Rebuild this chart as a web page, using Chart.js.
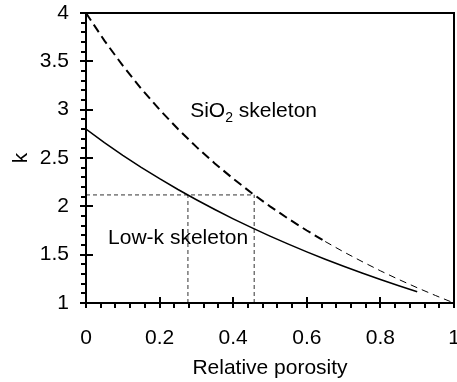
<!DOCTYPE html>
<html>
<head>
<meta charset="utf-8">
<script src="https://cdn.jsdelivr.net/npm/chart.js@4/dist/chart.umd.min.js"></script>
<style>
  html, body { margin: 0; padding: 0; background: #fff; }
  #wrap { width: 457px; height: 382px; }
</style>
</head>
<body>
<div id="wrap"><canvas id="myChart" width="457" height="382"></canvas></div>
<script>
'use strict'
// values (k vs relative porosity)
let porosity = [0, 0.05, 0.1, 0.15, 0.2, 0.25, 0.3, 0.35, 0.4, 0.45, 0.5, 0.55, 0.6, 0.65, 0.7, 0.75, 0.8, 0.85, 0.9, 0.95, 1];
let sio2K = [4, 3.714, 3.455, 3.217, 3.0, 2.8, 2.615, 2.444, 2.286, 2.138, 2.0, 1.871, 1.75, 1.636, 1.529, 1.429, 1.333, 1.243, 1.158, 1.077, 1];
let lowK = [2.8, 2.66, 2.528, 2.404, 2.286, 2.174, 2.068, 1.967, 1.871, 1.78, 1.692, 1.609, 1.529, 1.453, 1.38, 1.31, 1.243, 1.179, 1.117];
let thinFrom = 0.65; // sio2 curve changes to a thin dash here

// dotted guide lines
let guideK = 2.118;
let guideLowP = 0.277;
let guideSioP = 0.457;

let xTicks = [0, 0.2, 0.4, 0.6, 0.8, 1];
let yTicks = [1, 1.5, 2, 2.5, 3, 3.5, 4];
let xMinorStep = 0.04;
let yMinorStep = 0.1;

let fontFam = '"Liberation Sans", Arial, Helvetica, sans-serif';
Chart.defaults.color = '#000';
Chart.defaults.font.family = fontFam;

function toPoints(xs, ys) {
    let out = [];
    for (let i = 0; i < ys.length; i++) {
        out.push({ x: xs[i], y: ys[i] });
    }
    return out;
}

let sioAll = toPoints(porosity, sio2K);
let sioThick = sioAll.filter(p => p.x <= thinFrom);
let sioThin = sioAll.filter(p => p.x >= thinFrom);
let lowPts = toPoints(porosity, lowK);

function guide(data) {
    return {
        data: data, borderColor: '#333', borderWidth: 1, borderDash: [4, 3],
        pointRadius: 0, showLine: true, fill: false
    };
}

// minor/major ticks, frame and the two curve labels
let extras = {
    id: 'extras',
    afterDraw(chart) {
        let c = chart.ctx;
        let xs = chart.scales.x;
        let ys = chart.scales.y;
        let a = chart.chartArea;
        c.save();
        c.fillStyle = '#000';
        // y ticks every 0.1, major every 0.5
        for (let i = 0; i <= 30; i++) {
            let py = Math.round(ys.getPixelForValue(1 + i * yMinorStep));
            if (i % 5 === 0) {
                c.fillRect(a.left - 6, py - 1, 13, 2);
            } else {
                c.fillRect(a.left - 5, py - 1, 5, 2);
            }
        }
        // x ticks every 0.04, major every 0.2
        for (let i = 0; i <= 25; i++) {
            let px = Math.round(xs.getPixelForValue(i * xMinorStep));
            if (i % 5 === 0) {
                c.fillRect(px - 1, a.bottom - 6, 2, 11);
            } else {
                c.fillRect(px - 1, a.bottom, 2, 5);
            }
        }
        c.strokeStyle = '#000';
        c.lineWidth = 2;
        c.setLineDash([]);
        c.strokeRect(a.left, a.top, a.right - a.left, a.bottom - a.top);

        c.textBaseline = 'alphabetic';
        c.textAlign = 'left';
        let tx = xs.getPixelForValue(0.283);
        let ty = ys.getPixelForValue(2.92);
        c.font = '21px ' + fontFam;
        c.fillText('SiO', tx, ty);
        tx += c.measureText('SiO').width;
        c.font = '14px ' + fontFam;
        c.fillText('2', tx, ty + 5);
        tx += c.measureText('2').width;
        c.font = '21px ' + fontFam;
        c.fillText(' skeleton', tx, ty);
        c.fillText('Low-k skeleton', xs.getPixelForValue(0.06), ys.getPixelForValue(1.61));
        c.restore();
    }
};

let ctx = document.getElementById('myChart').getContext('2d');
let myChart = new Chart(ctx, {
    type: 'scatter',
    data: {
        datasets: [
            {
                data: sioThick, borderColor: '#000', borderWidth: 2, borderDash: [9, 5],
                pointRadius: 0, showLine: true
            },
            {
                data: sioThin, borderColor: '#000', borderWidth: 1, borderDash: [7, 5],
                pointRadius: 0, showLine: true
            },
            {
                data: lowPts, borderColor: '#000', borderWidth: 1.5,
                pointRadius: 0, showLine: true
            },
            guide([{ x: 0, y: guideK }, { x: guideSioP, y: guideK }]),
            guide([{ x: guideLowP, y: 1 }, { x: guideLowP, y: guideK }]),
            guide([{ x: guideSioP, y: 1 }, { x: guideSioP, y: guideK }])
        ]
    },
    options: {
        responsive: false,
        animation: false,
        layout: { padding: { top: 13, right: 3, left: 0, bottom: 0 } },
        plugins: { legend: { display: false }, tooltip: { enabled: false } },
        scales: {
            x: {
                type: 'linear', min: 0, max: 1,
                grid: { display: false, drawTicks: false },
                border: { display: false },
                afterBuildTicks: s => { s.ticks = xTicks.map(v => ({ value: v })); },
                ticks: { font: { size: 21 }, padding: 23, maxRotation: 0, callback: v => String(v) },
                title: { display: true, text: 'Relative porosity', font: { size: 21 }, padding: { top: 0, bottom: 1 } },
                afterFit: s => { s.height = 79; s.paddingLeft = 0; s.paddingRight = 0; }
            },
            y: {
                type: 'linear', min: 1, max: 4,
                grid: { display: false, drawTicks: false },
                border: { display: false },
                afterBuildTicks: s => { s.ticks = yTicks.map(v => ({ value: v })); },
                ticks: { font: { size: 21 }, padding: 17, callback: v => String(v) },
                title: { display: true, text: 'k', font: { size: 21 }, padding: { top: 9, bottom: 0 } },
                afterFit: s => { s.width = 86; s.paddingTop = 0; s.paddingBottom = 0; }
            }
        }
    },
    plugins: [extras]
});
</script>
</body>
</html>
